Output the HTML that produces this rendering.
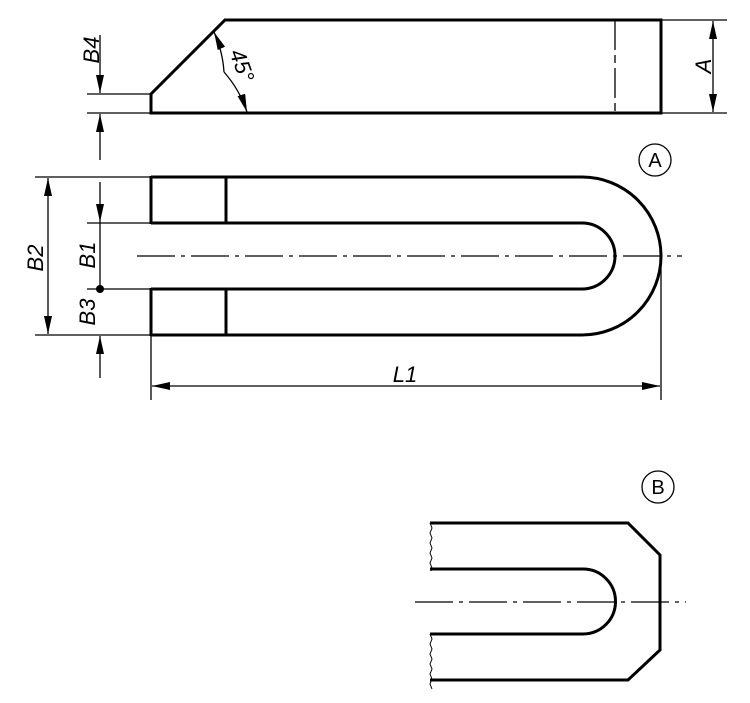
<!DOCTYPE html>
<html><head><meta charset="utf-8"><style>
html,body{margin:0;padding:0;background:#fff;}
svg{display:block}
text{font-family:"Liberation Sans",sans-serif;font-style:italic;fill:#000;}
</style></head><body>
<svg width="750" height="703" viewBox="0 0 750 703" xmlns="http://www.w3.org/2000/svg">
<defs>
<marker id="ar" viewBox="0 0 18 8" refX="18" refY="4" markerWidth="18" markerHeight="8" markerUnits="userSpaceOnUse" orient="auto">
<path d="M0,0 L18,4 L0,8 Z" fill="#000"/></marker>
</defs>
<g fill="none" stroke="#000">
<path d="M151,113 L151,94 L225,20 L661,20 L661,113 Z" stroke-width="3"/>
<line x1="615" y1="20" x2="615" y2="113" stroke-width="1.3" stroke-dasharray="30,5,8,5"/>
<line x1="661" y1="20" x2="727" y2="20" stroke-width="1.3"/>
<line x1="661" y1="113" x2="727" y2="113" stroke-width="1.3"/>
<line x1="713" y1="66" x2="713" y2="21" stroke-width="1.3" marker-end="url(#ar)"/>
<line x1="713" y1="66" x2="713" y2="112" stroke-width="1.3" marker-end="url(#ar)"/>
<line x1="87" y1="94" x2="151" y2="94" stroke-width="1.3"/>
<line x1="87" y1="113" x2="151" y2="113" stroke-width="1.3"/>
<line x1="100" y1="35" x2="100" y2="93" stroke-width="1.3" marker-end="url(#ar)"/>
<line x1="100" y1="160" x2="100" y2="114" stroke-width="1.3" marker-end="url(#ar)"/>
<path d="M224,72 A115,115 0 0 0 214,32" stroke-width="1.3" marker-end="url(#ar)"/>
<path d="M224,72 A115,115 0 0 1 247,112" stroke-width="1.3" marker-end="url(#ar)"/>
<path d="M151,177 L582,177 A79,79 0 0 1 582,335 L151,335" stroke-width="3"/>
<path d="M151,223 L582,223 A33,33 0 0 1 582,289 L151,289" stroke-width="3"/>
<line x1="151" y1="176" x2="151" y2="224" stroke-width="3"/>
<line x1="151" y1="288" x2="151" y2="336" stroke-width="3"/>
<line x1="226" y1="177" x2="226" y2="223" stroke-width="3"/>
<line x1="226" y1="289" x2="226" y2="335" stroke-width="3"/>
<line x1="137" y1="256" x2="682" y2="256" stroke-width="1.3" stroke-dasharray="38,6,4,6"/>
<line x1="35" y1="177" x2="151" y2="177" stroke-width="1.3"/>
<line x1="35" y1="335" x2="151" y2="335" stroke-width="1.3"/>
<line x1="48" y1="256" x2="48" y2="178" stroke-width="1.3" marker-end="url(#ar)"/>
<line x1="48" y1="256" x2="48" y2="334" stroke-width="1.3" marker-end="url(#ar)"/>
<line x1="87" y1="223" x2="151" y2="223" stroke-width="1.3"/>
<line x1="87" y1="289" x2="151" y2="289" stroke-width="1.3"/>
<line x1="100" y1="182" x2="100" y2="222" stroke-width="1.3" marker-end="url(#ar)"/>
<line x1="100" y1="222" x2="100" y2="289" stroke-width="1.3"/>
<line x1="100" y1="378" x2="100" y2="336" stroke-width="1.3" marker-end="url(#ar)"/>
<line x1="151" y1="335" x2="151" y2="400" stroke-width="1.3"/>
<line x1="661" y1="256" x2="661" y2="400" stroke-width="1.3"/>
<line x1="405" y1="386" x2="152" y2="386" stroke-width="1.3" marker-end="url(#ar)"/>
<line x1="405" y1="386" x2="660" y2="386" stroke-width="1.3" marker-end="url(#ar)"/>
<circle cx="655" cy="160" r="16" stroke-width="1.3"/>
<circle cx="658" cy="487" r="16" stroke-width="1.3"/>
<path d="M430,523 L628,523 L660,555 L660,650 L628,680 L430,680" stroke-width="3"/>
<path d="M430,569 L583,569 A32.5,32.5 0 0 1 583,634 L430,634" stroke-width="3"/>
<path d="M430,523 l2,5 l-2,5 l2,5 l-2,5 l2,5 l-2,5 l2,5 l-2,5 l2,5 l-1,3" stroke-width="1"/>
<path d="M430,634 l2,5 l-2,5 l2,5 l-2,5 l2,5 l-2,5 l2,5 l-2,5 l2,5 l-2,5 l2,5" stroke-width="1"/>
<line x1="415" y1="602" x2="686" y2="602" stroke-width="1.3" stroke-dasharray="38,6,4,6"/>
</g>
<circle cx="100" cy="289" r="4" fill="#000"/>
<g font-size="22">
<text transform="translate(99,50) rotate(-90)" text-anchor="middle">B4</text>
<text transform="translate(711,66) rotate(-90)" text-anchor="middle">A</text>
<text transform="translate(43,258) rotate(-90)" text-anchor="middle">B2</text>
<text transform="translate(95,255) rotate(-90)" text-anchor="middle">B1</text>
<text transform="translate(95,312) rotate(-90)" text-anchor="middle">B3</text>
<text transform="translate(235,68) rotate(70)" text-anchor="middle">45°</text>
<text x="405" y="382" text-anchor="middle">L1</text>
</g>
<g font-size="20">
<text x="655" y="167" text-anchor="middle" style="font-style:normal">A</text>
<text x="658" y="494" text-anchor="middle" style="font-style:normal">B</text>
</g>
</svg>
</body></html>
